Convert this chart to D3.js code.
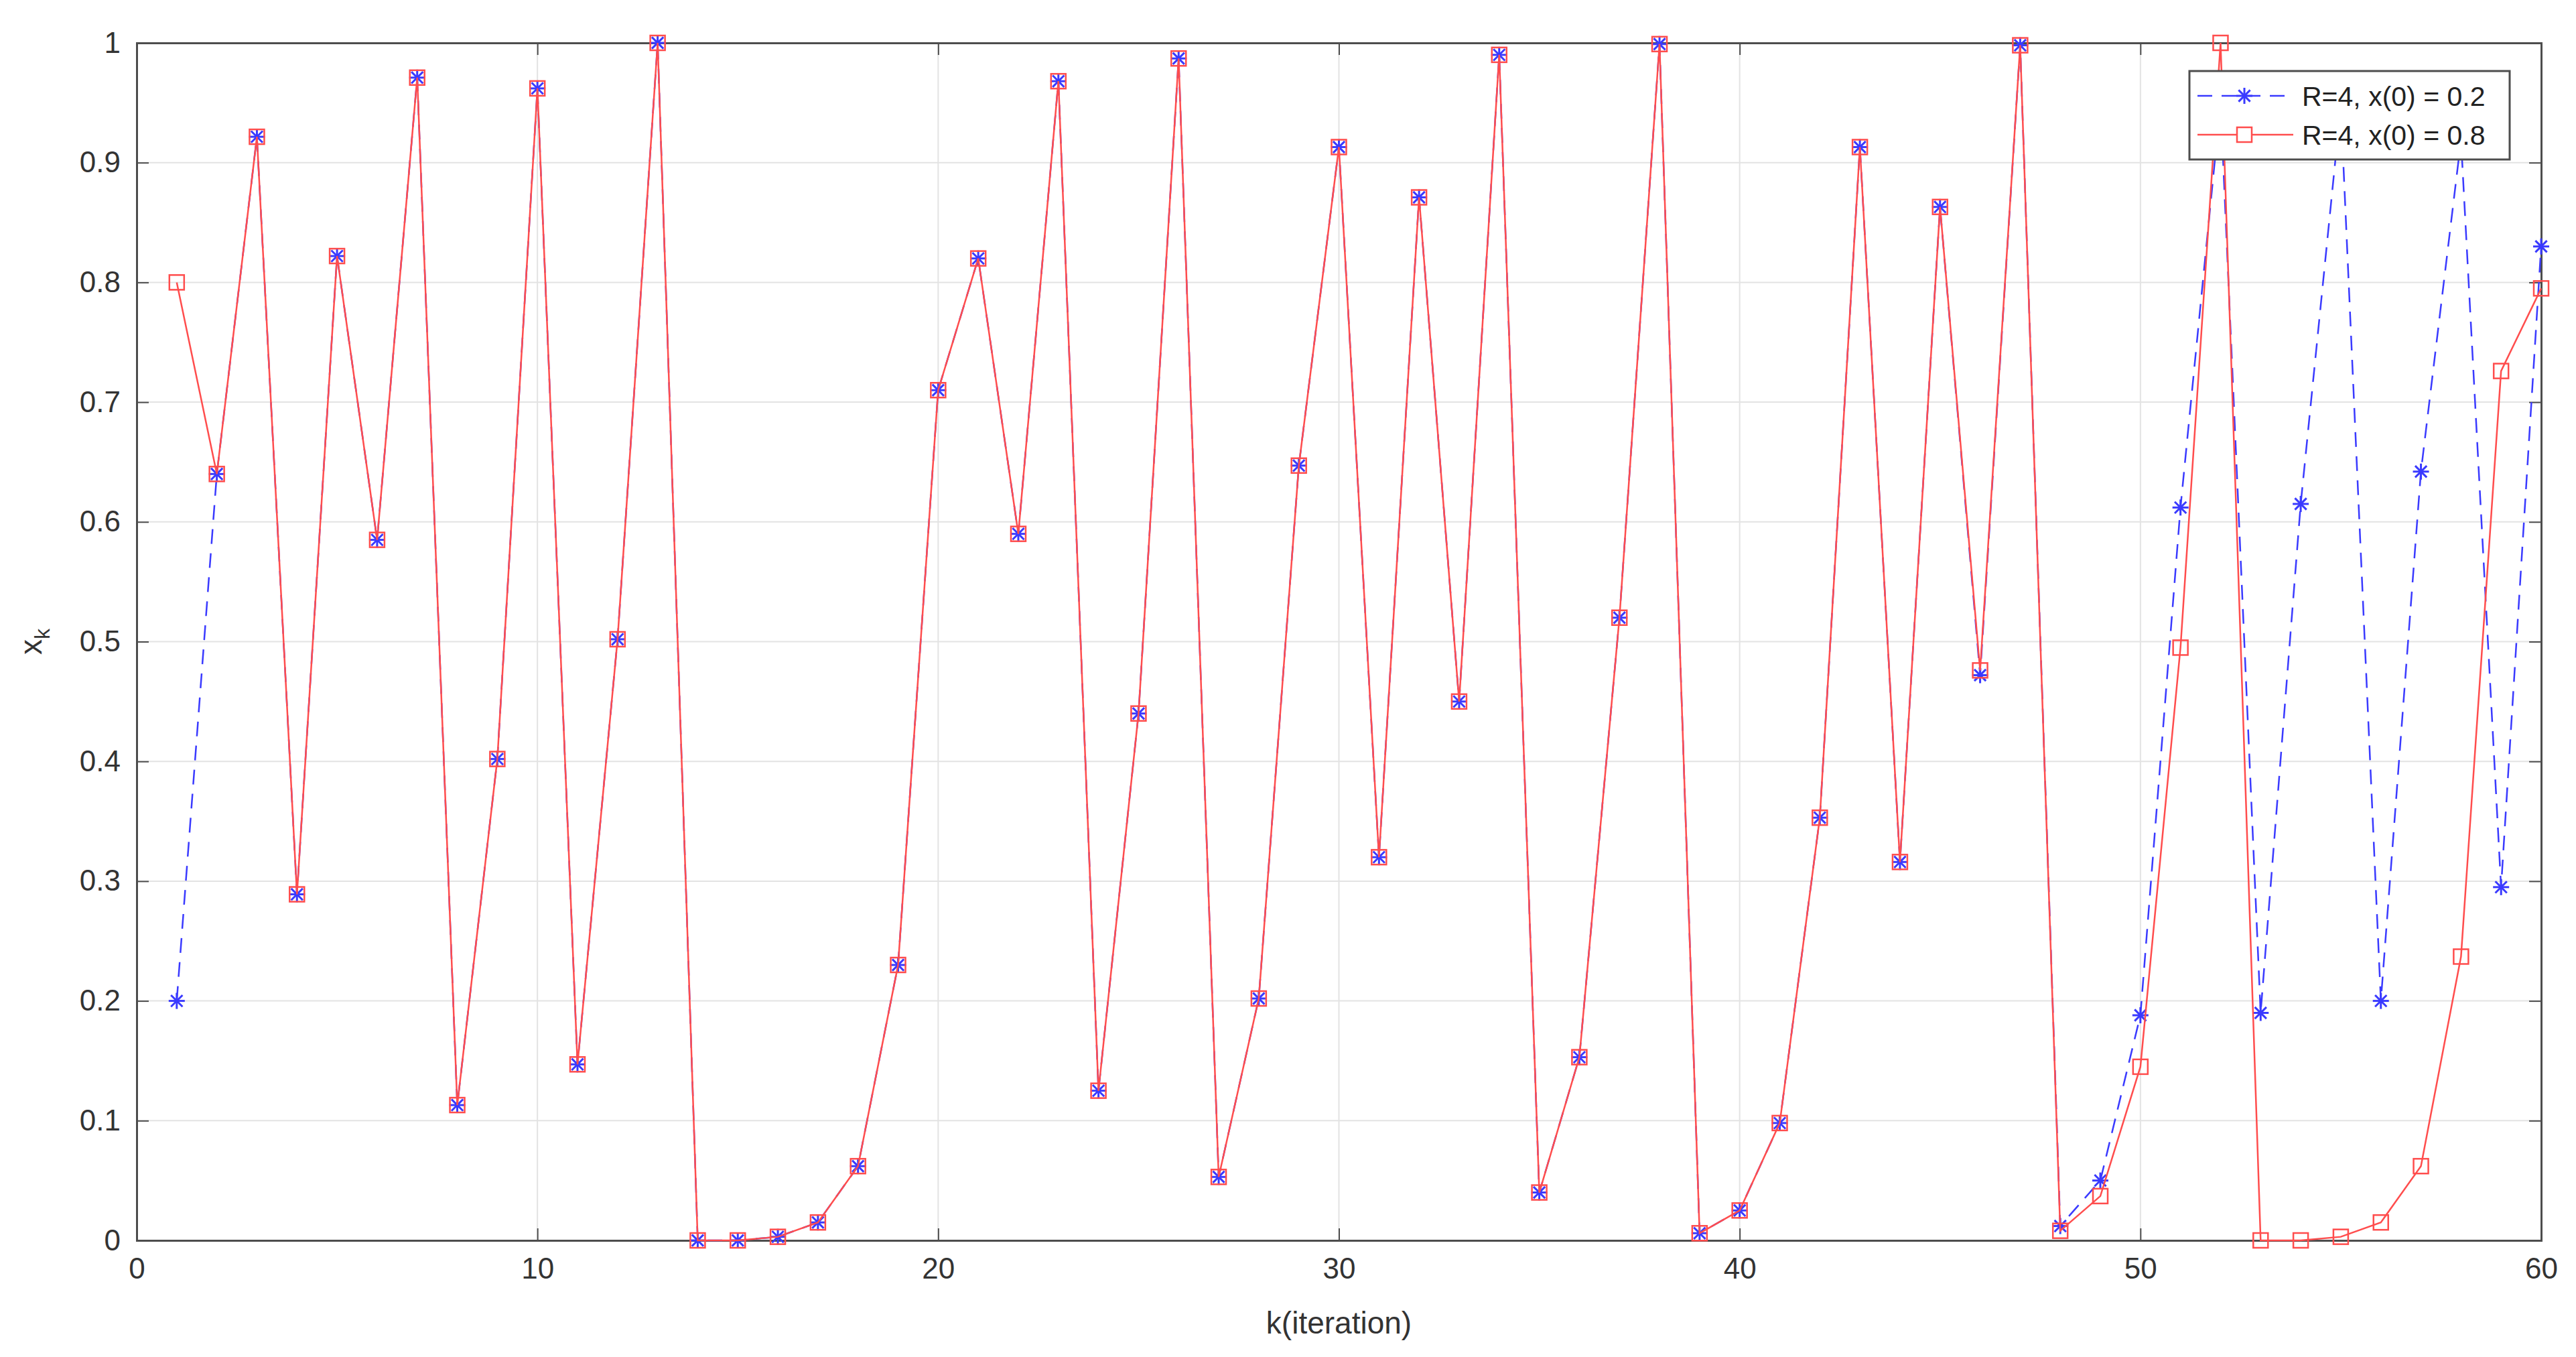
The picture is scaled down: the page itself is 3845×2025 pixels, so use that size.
<!DOCTYPE html>
<html><head><meta charset="utf-8">
<script src="https://cdn.jsdelivr.net/npm/d3@7"></script>
<style>body{margin:0;background:#fff}text{font-family:Arial,"Liberation Sans",sans-serif}</style>
</head><body>
<svg id="c" width="3845" height="2025"></svg>
<script>
const kValues = d3.range(1, 61);
const seriesA = [0.2,0.64,0.9216,0.289,0.822,0.585,0.971,0.113,0.402,0.962,0.147,0.502,1.0,0.0,0.0,0.003,0.015,0.062,0.23,0.71,
0.82,0.59,0.968,0.125,0.44,0.987,0.053,0.202,0.647,0.913,0.32,0.871,0.45,0.99,0.04,0.153,0.52,0.999,0.006,0.025,
0.098,0.353,0.913,0.316,0.863,0.472,0.998,0.012,0.05,0.188,0.612,0.95,0.19,0.615,0.947,0.2,0.642,0.919,0.295,0.83];
const seriesB = [0.8,0.64,0.9216,0.289,0.822,0.585,0.971,0.113,0.402,0.962,0.147,0.502,1.0,0.0,0.0,0.003,0.015,0.062,0.23,0.71,
0.82,0.59,0.968,0.125,0.44,0.987,0.053,0.202,0.647,0.913,0.32,0.871,0.45,0.99,0.04,0.153,0.52,0.999,0.006,0.025,
0.098,0.353,0.913,0.316,0.863,0.476,0.998,0.008,0.037,0.145,0.495,1.0,0.0,0.0,0.003,0.015,0.062,0.237,0.726,0.795];
const labels = ["R=4, x(0) = 0.2","R=4, x(0) = 0.8"];
const xTicks = [0,10,20,30,40,50,60];
const yTicks = d3.range(0, 11).map(i => i/10);

const L=204,R=3793,T=64,B=1851;
const svg=d3.select("#c");
const x=d3.scaleLinear().domain([0,60]).range([L,R]);
const y=d3.scaleLinear().domain([0,1]).range([B,T]);
const g=svg.append("g");
g.selectAll(".gx").data(xTicks).join("line").attr("x1",d=>x(d)).attr("x2",d=>x(d)).attr("y1",T).attr("y2",B).attr("stroke","#e3e3e3").attr("stroke-width",2);
g.selectAll(".gy").data(yTicks).join("line").attr("y1",d=>y(d)).attr("y2",d=>y(d)).attr("x1",L).attr("x2",R).attr("stroke","#e3e3e3").attr("stroke-width",2);

const fmt=d=>d===0?"0":d===1?"1":d3.format(".1f")(d);
svg.append("g").attr("transform",`translate(0,${B})`).call(d3.axisBottom(x).tickValues(xTicks).tickSize(-18).tickPadding(26).tickFormat(d3.format("d")));
svg.append("g").attr("transform",`translate(${L},0)`).call(d3.axisLeft(y).tickValues(yTicks).tickSize(-18).tickPadding(24).tickFormat(fmt));
svg.append("g").attr("transform",`translate(0,${T})`).call(d3.axisTop(x).tickValues(xTicks).tickSize(-18).tickFormat(""));
svg.append("g").attr("transform",`translate(${R},0)`).call(d3.axisRight(y).tickValues(yTicks).tickSize(-18).tickFormat(""));
svg.selectAll(".domain").attr("stroke","#4d4d4d").attr("stroke-width",3);
svg.selectAll(".tick line").attr("stroke","#4d4d4d").attr("stroke-width",2);
svg.selectAll(".tick text").attr("font-size",44).attr("fill","#333");

svg.append("text").attr("x",(L+R)/2).attr("y",1990).attr("text-anchor","middle").attr("font-size",46).attr("fill","#333").text("k(iteration)");
const yl=svg.append("text").attr("transform",`translate(62,${(T+B)/2}) rotate(-90)`).attr("text-anchor","middle").attr("font-size",46).attr("fill","#333");
yl.append("tspan").text("x");
yl.append("tspan").attr("dy",12).attr("font-size",32).text("k");

const line=d3.line().x((d,i)=>x(kValues[i])).y(d=>y(d));
const blue="#3a3aff", red="#ff4d4d";
function star(sel,cx,cy){
  const r=12;
  [[0,r],[r,0],[r*0.72,r*0.72],[r*0.72,-r*0.72]].forEach(([dx,dy])=>sel.append("line").attr("x1",cx-dx).attr("y1",cy-dy).attr("x2",cx+dx).attr("y2",cy+dy).attr("stroke",blue).attr("stroke-width",3));
}
const pa=svg.append("g");
pa.append("path").datum(seriesA).attr("d",line).attr("fill","none").attr("stroke",blue).attr("stroke-width",2.5).attr("stroke-dasharray","22,14");
seriesA.forEach((v,i)=>star(pa,x(kValues[i]),y(v)));
const pb=svg.append("g");
pb.append("path").datum(seriesB).attr("d",line).attr("fill","none").attr("stroke",red).attr("stroke-width",2.5);
pb.selectAll("rect").data(seriesB).join("rect").attr("x",(d,i)=>x(kValues[i])-11).attr("y",d=>y(d)-11).attr("width",22).attr("height",22).attr("fill","none").attr("stroke",red).attr("stroke-width",2.5);

const lg=svg.append("g").attr("transform","translate(3268,106)");
lg.append("rect").attr("width",478).attr("height",132).attr("fill","#fff").attr("stroke","#4d4d4d").attr("stroke-width",3);
lg.append("line").attr("x1",12).attr("x2",150).attr("y1",37).attr("y2",37).attr("stroke",blue).attr("stroke-width",2.5).attr("stroke-dasharray","22,14");
star(lg,82,37);
lg.append("line").attr("x1",12).attr("x2",155).attr("y1",95).attr("y2",95).attr("stroke",red).attr("stroke-width",2.5);
lg.append("rect").attr("x",71).attr("y",84).attr("width",22).attr("height",22).attr("fill","#fff").attr("stroke",red).attr("stroke-width",2.5);
lg.selectAll(".lt").data(labels).join("text").attr("x",168).attr("y",(d,i)=>37+58*i+15).attr("font-size",41).attr("fill","#222").text(d=>d);
</script>
</body></html>
